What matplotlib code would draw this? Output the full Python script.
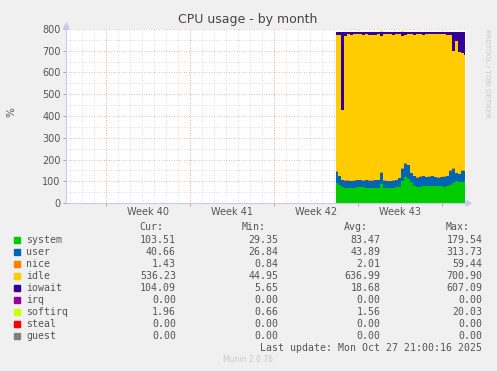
import numpy as np
import matplotlib
matplotlib.use("Agg")
import matplotlib.pyplot as plt
from matplotlib.patches import Rectangle

W, H = 497, 371

# sample times (days from left edge of graph), one sample every 6 hours
t_start = 22.5
t_step = 0.25

system = [90, 85, 75, 70, 68, 70, 68, 72, 74, 72, 70, 68, 70, 69, 70, 88, 70, 68, 69, 70, 72, 75,
          100, 118, 110, 95, 80, 74, 75, 78, 76, 78, 77, 76, 78, 76, 75, 80, 82, 92, 100, 98, 95, 100]
user = [53, 38, 31, 32, 35, 30, 34, 34, 30, 30, 36, 34, 33, 35, 36, 50, 32, 33, 31, 32, 32, 38,
        58, 62, 63, 43, 43, 42, 45, 44, 42, 42, 45, 42, 38, 42, 45, 43, 66, 66, 38, 35, 53, 46]
nice = [2, 2, 2, 2, 2, 2, 2, 2, 2, 2, 2, 2, 2, 2, 2, 3, 2, 2, 2, 2, 2, 2,
        3, 2, 2, 2, 2, 2, 2, 2, 2, 2, 2, 2, 2, 2, 2, 2, 2, 2, 2, 2, 1.5, 1.4]
idle = [629, 646, 318, 662, 671, 669, 672, 670, 670, 670, 668, 670, 669, 666, 668, 628, 672, 675,
        674, 670, 672, 661, 608, 592, 601, 638, 649, 658, 656, 650, 656, 656, 652, 658, 658, 658,
        654, 649, 621, 541, 606, 561, 538, 534]
iowait = [12, 15, 360, 20, 10, 15, 10, 8, 10, 12, 10, 12, 12, 14, 10, 18, 10, 8, 10, 12, 8, 10,
          18, 12, 10, 8, 12, 10, 8, 12, 10, 8, 10, 8, 10, 8, 10, 12, 15, 85, 40, 90, 98, 104]
irq = [0] * 44
softirq = [2, 2, 2, 2, 2, 2, 2, 2, 2, 2, 2, 2, 2, 2, 2, 2, 2, 2, 2, 2, 2, 2,
           2, 2, 2, 2, 2, 2, 2, 2, 2, 2, 2, 2, 2, 2, 2, 2, 2, 2, 2, 2, 2, 2]
steal = [0] * 44
guest = [0] * 44

names = ["system", "user", "nice", "idle", "iowait", "irq", "softirq", "steal", "guest"]
colors = ["#00CC00", "#0066B3", "#FF8000", "#FFCC00", "#330099", "#990099", "#CCFF00", "#FF0000", "#808080"]
cur = ["103.51", "40.66", "1.43", "536.23", "104.09", "0.00", "1.96", "0.00", "0.00"]
vmin = ["29.35", "26.84", "0.84", "44.95", "5.65", "0.00", "0.66", "0.00", "0.00"]
avg = ["83.47", "43.89", "2.01", "636.99", "18.68", "0.00", "1.56", "0.00", "0.00"]
vmax = ["179.54", "313.73", "59.44", "700.90", "607.09", "0.00", "20.03", "0.00", "0.00"]

week_labels = ["Week 40", "Week 41", "Week 42", "Week 43"]
yticks = [0, 100, 200, 300, 400, 500, 600, 700, 800]


def fx(x):
    return x / W


def fy(y):
    return 1 - y / H


fig = plt.figure(figsize=(W / 100, H / 100), dpi=100)
fig.patch.set_facecolor("#F0F0F0")

# plot area 66..466 x, 29..203 y (pixels)
ax = fig.add_axes([fx(66), fy(203), 400 / W, 174 / H])
ax.set_facecolor("white")
span = 400 / 12.0
ax.set_xlim(0, span)
ax.set_ylim(0, 800)

# grid
for d in np.arange(1 / 3, span, 1.0):
    ax.axvline(d, color="#D0D0D0", lw=0.6, ls=(0, (1, 2)), zorder=0)
for v in range(50, 800, 100):
    ax.axhline(v, color="#D0D0D0", lw=0.6, ls=(0, (1, 2)), zorder=0)
for v in range(100, 801, 100):
    ax.axhline(v, color="#E8A0A0", lw=0.6, ls=(0, (1, 2)), zorder=0)
week_lines = np.arange(10 / 3, span, 7.0)
for d in week_lines:
    ax.axvline(d, color="#E8A0A0", lw=0.6, ls=(0, (1, 2)), zorder=0)

# stacked areas
t = t_start + t_step * np.arange(len(system))
series = [system, user, nice, idle, iowait, irq, softirq, steal, guest]
base = np.zeros(len(t))
for vals, c in zip(series, colors):
    top = base + np.array(vals, dtype=float)
    ax.fill_between(t, base, top, color=c, lw=0, step="mid", zorder=2)
    base = top

# axes styling
for s in ["top", "right"]:
    ax.spines[s].set_visible(False)
ax.spines["left"].set_color("#C8C8F0")
ax.spines["bottom"].set_color("#C8C8F0")
ax.spines["left"].set_linewidth(0.8)
ax.spines["bottom"].set_linewidth(0.8)
ax.set_yticks(yticks)
ax.set_yticklabels([str(v) for v in yticks], fontsize=7, color="#555555")
ax.tick_params(axis="y", length=2, width=0.6, color="#999999", pad=2)
ax.set_xticks(week_lines)
ax.set_xticklabels([])
ax.tick_params(axis="x", length=2, width=0.6, color="#E08080")
for d, lab in zip(week_lines[:4] + 3.5, week_labels):
    ax.text(d, -40, lab, ha="center", va="center", fontsize=7, color="#555555")

# axis arrows
fig.add_artist(plt.Polygon([[fx(466), fy(200.5)], [fx(466), fy(206)], [fx(471), fy(203.2)]],
                           closed=True, color="#C8C8F0", transform=fig.transFigure))
fig.add_artist(plt.Polygon([[fx(63.5), fy(29)], [fx(69), fy(29)], [fx(66.3), fy(23)]],
                           closed=True, color="#C8C8F0", transform=fig.transFigure))

# title and labels
fig.text(fx(248), fy(19), "CPU usage - by month", ha="center", va="center", fontsize=9, color="#444444")
fig.text(fx(11), fy(112), "%", ha="center", va="center", fontsize=7.5, color="#555555", rotation=90)
fig.text(fx(487), fy(29), "RRDTOOL / TOBI OETIKER", ha="center", va="top", fontsize=5,
         color="#C8C8C8", rotation=270)

# legend
mono = "DejaVu Sans Mono"
fs = 7.1
tc = "#555555"
col_right = [163, 266, 368, 470]
for x, h in zip(col_right, ["Cur:", "Min:", "Avg:", "Max:"]):
    fig.text(fx(x), fy(227.5), h, ha="right", va="center", family=mono, fontsize=fs, color=tc)
val_right = [176, 278.5, 380.5, 482.5]
for i, name in enumerate(names):
    y = 239.7 + 12 * i
    fig.add_artist(Rectangle((fx(14), fy(y + 3)), 6 / W, 6 / H, color=colors[i], transform=fig.transFigure))
    fig.text(fx(26), fy(y), name, ha="left", va="center", family=mono, fontsize=fs, color=tc)
    for x, col in zip(val_right, [cur, vmin, avg, vmax]):
        fig.text(fx(x), fy(y), col[i], ha="right", va="center", family=mono, fontsize=fs, color=tc)
fig.text(fx(482.5), fy(347.7), "Last update: Mon Oct 27 21:00:16 2025", ha="right", va="center",
         family=mono, fontsize=fs, color=tc)
fig.text(fx(248), fy(360), "Munin 2.0.76", ha="center", va="center", fontsize=5.5, color="#C8C8C8")

fig.savefig("out.png", dpi=100, facecolor=fig.get_facecolor())
